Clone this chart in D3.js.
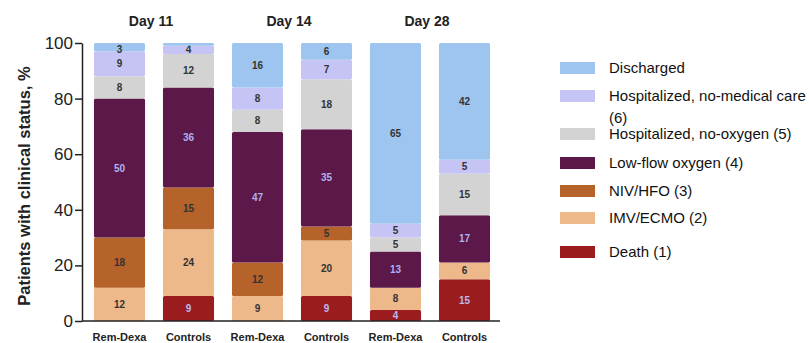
<!DOCTYPE html>
<html>
<head>
<meta charset="utf-8">
<script src="https://cdn.jsdelivr.net/npm/d3@7"></script>
<style>
    body { margin: 0; background: #fff; }
    svg { display: block; font-family: "Liberation Sans", Arial, sans-serif; }
</style>
</head>
<body>
<svg id="chart" width="809" height="343"></svg>
<script>
// bars, left to right
const groups = ["Day 11", "Day 11", "Day 14", "Day 14", "Day 28", "Day 28"];
const arms = ["Rem-Dexa", "Controls", "Rem-Dexa", "Controls", "Rem-Dexa", "Controls"];
const dayTitles = ["Day 11", "Day 14", "Day 28"];

// statuses, stacked bottom to top
const statuses = ["Death (1)", "IMV/ECMO (2)", "NIV/HFO (3)", "Low-flow oxygen (4)",
    "Hospitalized, no-oxygen (5)", "Hospitalized, no-medical care (6)", "Discharged"];

// percent per bar, same order as statuses
const death = [0, 9, 0, 9, 4, 15];
const imvEcmo = [12, 24, 9, 20, 8, 6];
const nivHfo = [18, 15, 12, 5, 0, 0];
const lowFlow = [50, 36, 47, 35, 13, 17];
const noOxygen = [8, 12, 8, 18, 5, 15];
const noMedical = [9, 3, 8, 7, 5, 5];
const discharged = [3, 1, 16, 6, 65, 42];

// printed labels (blank = not shown)
const labelText = [
    ["", "9", "", "9", "4", "15"],
    ["12", "24", "9", "20", "8", "6"],
    ["18", "15", "12", "5", "", ""],
    ["50", "36", "47", "35", "13", "17"],
    ["8", "12", "8", "18", "5", "15"],
    ["9", "4", "8", "7", "5", "5"],
    ["3", "", "16", "6", "65", "42"],
];

const yTicks = [0, 20, 40, 60, 80, 100];

const colors = ["#9b1c1e", "#edb88a", "#b5622b", "#5b1849", "#d3d3d3", "#c6c4f4", "#9ec5f0"];
const labelColors = ["#b8b8f2", "#333", "#333", "#b0b0f0", "#333", "#333", "#333"];

const series = [death, imvEcmo, nivHfo, lowFlow, noOxygen, noMedical, discharged];

const svg = d3.select("#chart");
const margin = { top: 43, bottom: 22, left: 82 };
const height = 343;

const rows = arms.map((a, i) => {
    const r = { idx: i };
    statuses.forEach((s, k) => { r[s] = series[k][i]; });
    return r;
});

const stack = d3.stack().keys(statuses);
const layers = stack(rows);

const x = d3.scaleBand()
    .domain(d3.range(arms.length))
    .range([85, 499])
    .paddingInner(0.26)
    .paddingOuter(0.13);

const y = d3.scaleLinear()
    .domain([0, 100])
    .range([height - margin.bottom, margin.top]);

// bars
layers.forEach((layer, k) => {
    svg.append("g")
        .selectAll("rect")
        .data(layer.filter((d) => d[1] > d[0]))
        .enter()
        .append("rect")
        .attr("x", (d) => x(d.data.idx))
        .attr("y", (d) => y(d[1]))
        .attr("width", x.bandwidth())
        .attr("height", (d) => y(d[0]) - y(d[1]))
        .attr("rx", 1.5)
        .attr("fill", colors[k]);

    svg.append("g")
        .selectAll("text")
        .data(layer.filter((d) => labelText[k][d.data.idx] !== ""))
        .enter()
        .append("text")
        .attr("x", (d) => x(d.data.idx) + x.bandwidth() / 2)
        .attr("y", (d) => {
            const mid = (y(d[0]) + y(d[1])) / 2;
            return k === 6 && d[1] - d[0] < 5 ? y(d[1]) + 6 : mid;
        })
        .attr("dy", "0.35em")
        .attr("text-anchor", "middle")
        .attr("font-size", 10)
        .attr("font-weight", "bold")
        .attr("fill", labelColors[k])
        .text((d) => labelText[k][d.data.idx]);
});

// y axis
const yAxis = svg.append("g")
    .attr("transform", `translate(${margin.left},0)`)
    .call(d3.axisLeft(y).tickValues(yTicks).tickSize(7).tickSizeOuter(0).tickPadding(2));
yAxis.select(".domain").attr("stroke", "#222").attr("stroke-width", 1.5);
yAxis.selectAll(".tick line").attr("stroke", "#222").attr("stroke-width", 1.5);
yAxis.selectAll(".tick text")
    .attr("font-size", 17)
    .attr("fill", "#222")
    .attr("font-family", "Liberation Sans, Arial, sans-serif");

// x baseline
svg.append("line")
    .attr("x1", margin.left)
    .attr("x2", 500)
    .attr("y1", y(0))
    .attr("y2", y(0))
    .attr("stroke", "#222")
    .attr("stroke-width", 1.5);

// x labels
svg.append("g")
    .selectAll("text")
    .data(arms)
    .enter()
    .append("text")
    .attr("x", (d, i) => x(i) + x.bandwidth() / 2)
    .attr("y", 341)
    .attr("text-anchor", "middle")
    .attr("font-size", 11)
    .attr("font-weight", "bold")
    .attr("fill", "#222")
    .text((d) => d);

// day titles
svg.append("g")
    .selectAll("text")
    .data(dayTitles)
    .enter()
    .append("text")
    .attr("x", (d) => {
        const idx = groups.map((g, i) => g === d ? i : -1).filter((i) => i >= 0);
        return (x(idx[0]) + x(idx[1]) + x.bandwidth()) / 2 - 3;
    })
    .attr("y", 26)
    .attr("text-anchor", "middle")
    .attr("font-size", 14)
    .attr("font-weight", "bold")
    .attr("fill", "#222")
    .text((d) => d);

// y title
svg.append("text")
    .attr("transform", `translate(30, ${(y(0) + y(100)) / 2 + 4}) rotate(-90)`)
    .attr("text-anchor", "middle")
    .attr("font-size", 16.5)
    .attr("font-weight", "bold")
    .attr("fill", "#222")
    .text("Patients with clinical status, %");

// legend, top to bottom
const legendY = [68, 96, 134, 163, 191, 218, 252];
const legend = svg.append("g");
statuses.slice().reverse().forEach((s, i) => {
    const k = statuses.length - 1 - i;
    legend.append("rect")
        .attr("x", 560)
        .attr("y", legendY[i] - 6)
        .attr("width", 35)
        .attr("height", 12)
        .attr("fill", colors[k]);
    const t = legend.append("text")
        .attr("x", 609)
        .attr("y", legendY[i])
        .attr("dy", "0.35em")
        .attr("font-size", 15)
        .attr("fill", "#111");
    if (s.startsWith("Hospitalized, no-medical")) {
        t.append("tspan").text("Hospitalized, no-medical care");
        t.append("tspan").attr("x", 609).attr("dy", "1.45em").text("(6)");
    } else {
        t.text(s);
    }
});
</script>
</body>
</html>
